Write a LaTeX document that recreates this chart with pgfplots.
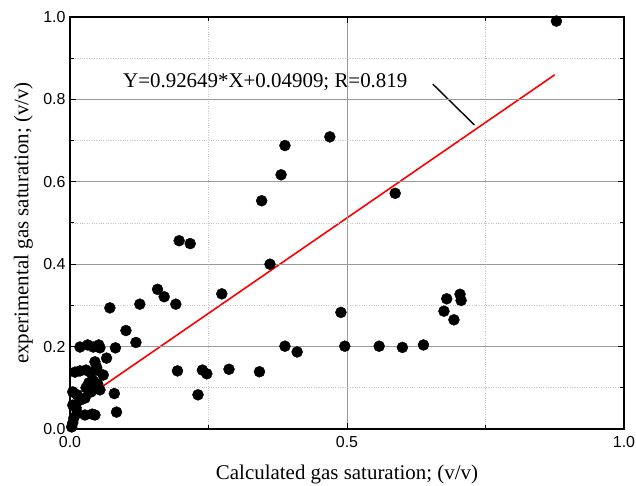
\documentclass[border=0pt]{standalone}
\usepackage{pgfplots}
\pgfplotsset{compat=1.18}
\usepackage{pgfplotstable}
\usepackage{fontspec}
\setmainfont{Liberation Serif}
\newfontfamily\arial{Liberation Sans}

\pgfplotstableread{
x y
0.878 0.990
0.469 0.709
0.388 0.688
0.381 0.617
0.587 0.572
0.346 0.554
0.197 0.457
0.217 0.450
0.361 0.400
0.158 0.339
0.170 0.321
0.274 0.328
0.191 0.303
0.126 0.303
0.072 0.294
0.704 0.327
0.706 0.312
0.680 0.316
0.675 0.286
0.489 0.283
0.693 0.265
0.101 0.239
0.119 0.210
0.082 0.197
0.066 0.172
0.496 0.201
0.558 0.201
0.600 0.198
0.638 0.204
0.388 0.201
0.410 0.187
0.194 0.141
0.239 0.143
0.247 0.134
0.287 0.145
0.342 0.139
0.231 0.083
0.080 0.086
0.084 0.041
0.018 0.199
0.032 0.204
0.042 0.199
0.052 0.204
0.054 0.197
0.045 0.163
0.048 0.150
0.009 0.138
0.018 0.141
0.029 0.143
0.038 0.136
0.049 0.143
0.060 0.131
0.034 0.112
0.042 0.117
0.050 0.109
0.029 0.100
0.038 0.090
0.049 0.102
0.054 0.095
0.005 0.090
0.013 0.083
0.018 0.070
0.027 0.075
0.005 0.058
0.011 0.051
0.013 0.039
0.027 0.034
0.040 0.036
0.045 0.034
0.007 0.027
0.005 0.015
0.003 0.005
}\pointsdata

\begin{document}
\begin{tikzpicture}
\begin{axis}[
  scale only axis,
  width=554bp, height=412bp,
  xmin=0, xmax=1, ymin=0, ymax=1,
  xtick={0,0.5,1}, ytick={0,0.2,0.4,0.6,0.8,1.0},
  minor xtick={0.25,0.75}, minor ytick={0.1,0.3,0.5,0.7,0.9},
  grid=both,
  major grid style={draw=gray!80, line width=0.9bp},
  minor grid style={draw=gray!45, dotted, line width=0.8bp},
  axis on top,
  tick align=inside,
  major tick length=6bp, minor tick length=4bp,
  tick style={black, line width=1bp},
  axis line style={black, line width=1.7bp},
  /pgf/number format/assume math mode=true,
  /pgf/number format/fixed, /pgf/number format/fixed zerofill,
  /pgf/number format/precision=1,
  ticklabel style={font=\arial\fontsize{16}{18}\selectfont},
  xticklabel style={yshift=-4bp},
  yticklabel style={xshift=-1bp},
  xlabel={Calculated gas saturation; (v/v)},
  ylabel={experimental gas saturation; (v/v)},
  label style={font=\fontsize{21}{24}\selectfont},
  xlabel style={at={(axis description cs:0.5,-0.1214)}, anchor=base},
  ylabel style={at={(axis description cs:-0.0753,0.5)}, anchor=base},
]
\addplot[only marks, mark=*, mark size=5.5bp, black] table[x=x,y=y] {\pointsdata};
\addplot[red, line width=1.6bp] coordinates {(0,0.04909) (0.875,0.85977)};
\draw[black, line width=1.4bp] (axis cs:0.655,0.837) -- (axis cs:0.730,0.738);
\node[anchor=base west, inner sep=0pt, font=\fontsize{21}{24}\selectfont] at (axis cs:0.0957,0.830) {Y=0.92649*X+0.04909; R=0.819};
\end{axis}
\pgfresetboundingbox
\path[use as bounding box] ([shift={(-70bp,-57bp)}]current axis.south west) rectangle ([shift={(12bp,17bp)}]current axis.north east);
\end{tikzpicture}
\end{document}
